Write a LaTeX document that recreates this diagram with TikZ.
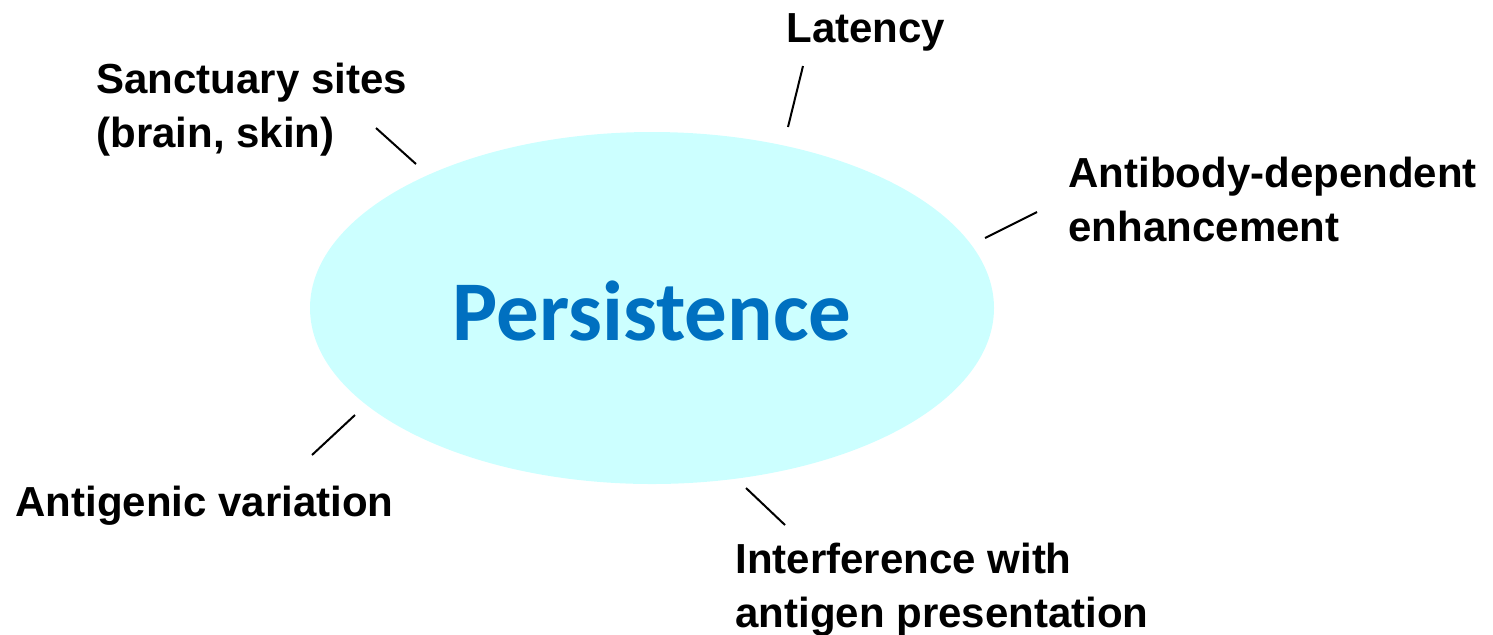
\documentclass[tikz,border=0pt]{standalone}
\usepackage{fontspec}
\setmainfont{Liberation Sans}
\newfontfamily\bigfont{Carlito}
\usepackage{tikz}
\usetikzlibrary{positioning}
\usetikzlibrary{shapes.geometric}

\definecolor{cloud}{HTML}{CCFFFF}
\definecolor{titleblue}{HTML}{0070C0}

\begin{document}
\begin{tikzpicture}[x=0.5pt,y=-0.5pt,semithick,
	label/.style={font=\fontsize{21}{27}\selectfont\bfseries,align=left,anchor=base west,inner sep=0pt},
	tick/.style={line width=1pt}]
				\useasboundingbox (0,0) rectangle (1493,634);
				\node[ellipse,fill=cloud,minimum width=342pt,minimum height=176pt,inner sep=0pt] (core) at (652,308) {};
				\node[text=titleblue,font=\bigfont\fontsize{42.5}{48}\selectfont\bfseries,anchor=base] (title) at (652,340) {Persistence};
				
				% multi-line labels sit on their last baseline
				\node[label] (sanct)  at (96,147)   {Sanctuary sites\\(brain, skin)};
				\node[label] (lat)    at (786,42)   {Latency};
				\node[label] (ade)    at (1068,241) {Antibody-dependent\\enhancement};
				\node[label] (var)    at (15,516)   {Antigenic variation};
				\node[label] (interf) at (735,627)  {Interference with\\antigen presentation};
				
				% tick ends
				\coordinate (sanct-a)  at (376,128);	\coordinate (sanct-b)  at (416,164);
				\coordinate (lat-a)    at (803,66);		\coordinate (lat-b)    at (788,127);
				\coordinate (ade-a)    at (1037,212);	\coordinate (ade-b)    at (985,238);
				\coordinate (var-a)    at (312,455);	\coordinate (var-b)    at (355,415);
				\coordinate (interf-a) at (785,525);	\coordinate (interf-b) at (746,488);
				
				\path[tick]
				(sanct-a) edge (sanct-b)
				(lat-a) edge (lat-b)
				(ade-a) edge (ade-b)
				(var-a) edge (var-b)
				(interf-a) edge (interf-b)
					;
\end{tikzpicture}
\end{document}
